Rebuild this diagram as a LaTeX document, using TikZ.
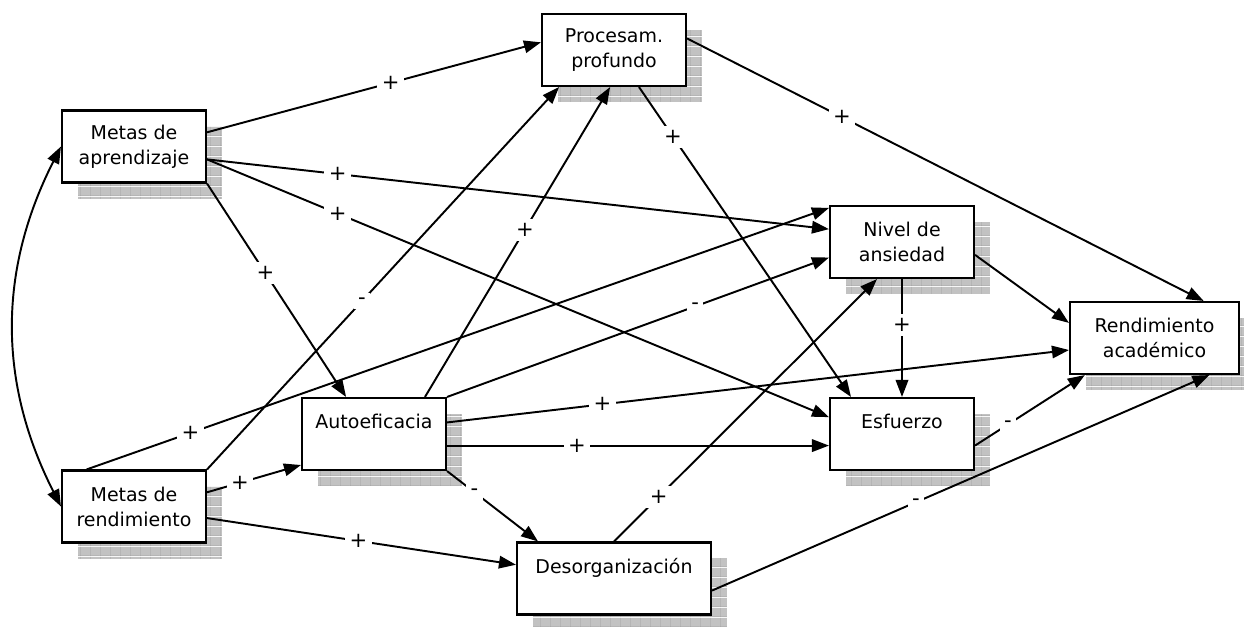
\documentclass[tikz,border=0pt]{standalone}
\usepackage{fontspec}
\setmainfont{DejaVu Sans}
\usetikzlibrary{arrows.meta,shadows,patterns.meta}

\tikzdeclarepattern{
  name=shadowgrid,
  type=colored,
  bottom left={(0pt,0pt)},
  top right={(5.7pt,5.7pt)},
  tile size={(5.7pt,5.7pt)},
  code={
    \fill[black!24] (0pt,0pt) rectangle (5.7pt,5.7pt);
    \draw[black!38,line width=0.35pt] (0pt,0pt) -- (5.7pt,0pt) (0pt,0pt) -- (0pt,5.7pt);
  }
}

\begin{document}
\begin{tikzpicture}[x=0.02cm,y=-0.02cm,line width=1.1pt,>={Triangle[length=0.34cm,width=0.25cm]},
 box/.style={draw,line width=1.2pt,fill=white,align=center,minimum width=2.88cm,minimum height=1.44cm,
  inner sep=0pt,font=\fontsize{10.8}{14.2}\selectfont,
  drop shadow={shadow xshift=0.32cm,shadow yshift=-0.32cm,opacity=1,pattern=shadowgrid}},
 lbl/.style={fill=white,inner sep=2.5pt,font=\fontsize{12}{13}\selectfont}]
\useasboundingbox (0,0) rectangle (1244,626);
\node[box] (ma) at (134,146.5) {Metas de\\aprendizaje};
\node[box] (pp) at (614,50) {Procesam.\\profundo};
\node[box] (na) at (902,242) {Nivel de\\ansiedad};
\node[box,minimum width=3.38cm] (ra) at (1154.5,338) {Rendimiento\\académico};
\node[box] (ae) at (374,434) {Autoeficacia\\\mbox{}};
\node[box] (es) at (902,434) {Esfuerzo\\\mbox{}};
\node[box] (mr) at (134,506.5) {Metas de\\rendimiento};
\node[box,minimum width=3.88cm] (de) at (614,578.5) {Desorganización\\\mbox{}};

\draw[<->] (ma.west) .. controls +(-63,124) and +(-63,-124) .. (mr.west);
\draw[->] (ma.11) -- node[lbl,pos=.55]{+} (pp.174);
\draw[->] (ma.-10) -- node[lbl,pos=.21]{+} (na.170);
\draw[->] (ma.-10) -- node[lbl,pos=.21]{+} (es.167);
\draw[->] (ma.south east) -- node[lbl,pos=.42]{+} (ae.127);
\draw[->] (mr.north east) -- node[lbl,pos=.44]{-} (pp.214);
\draw[->] (mr.142) -- node[lbl,pos=.14]{+} (na.155);
\draw[->] (mr.11) -- node[lbl,pos=.35]{+} (ae.203);
\draw[->] (mr.-9) -- node[lbl,pos=.49]{+} (de.172);
\draw[->] (ae.36) -- node[lbl,pos=.54]{+} (pp.264);
\draw[->] (ae.north east) -- node[lbl,pos=.65]{-} (na.192);
\draw[->] (ae.9) -- node[lbl,pos=.25]{+} (ra.188);
\draw[->] (ae.-9) -- node[lbl,pos=.34]{+} (es.189);
\draw[->] (ae.south east) -- node[lbl,pos=.3]{-} (de.154);
\draw[->] (pp.-56) -- node[lbl,pos=.16]{+} (es.144);
\draw[->] (pp.9) -- node[lbl,pos=.3]{+} (ra.37);
\draw[->] (na.-10) -- (ra.170);
\draw[->] (na.south) -- node[lbl,pos=.39]{+} (es.north);
\draw[->] (de.north) -- node[lbl,pos=.17]{+} (na.236);
\draw[->] (es.-9) -- node[lbl,pos=.3]{-} (ra.208);
\draw[->] (de.-7) -- node[lbl,pos=.41]{-} (ra.-34);
\end{tikzpicture}
\end{document}
